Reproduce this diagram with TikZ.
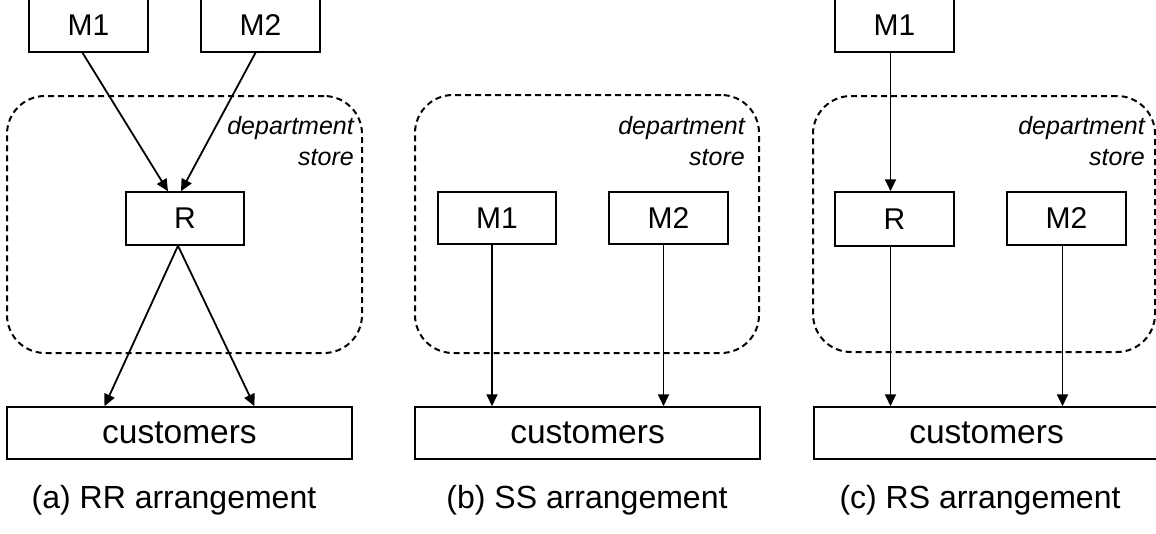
\documentclass[tikz,border=0pt]{standalone}
\usepackage{fontspec}
\setmainfont{Liberation Sans}
\usetikzlibrary{arrows.meta}
\tikzset{
  box/.style={draw, line width=1.5pt, fill=white, inner sep=0pt,
    font=\fontsize{30}{36}\selectfont},
  custbox/.style={box, minimum height=52pt, font=\fontsize{33.5}{40}\selectfont},
  store/.style={draw, line width=2pt, dash pattern=on 6pt off 4pt,
    rounded corners=38pt, inner sep=0pt},
  storelabel/.style={align=right, inner sep=0pt, anchor=north east,
    font=\fontsize{25}{31}\selectfont\itshape},
  caption/.style={inner sep=0pt, font=\fontsize{32}{38}\selectfont},
  flow/.style={line width=1.8pt, -{Triangle[length=12pt,width=11pt]}}
}
\begin{document}
\begin{tikzpicture}[x=1pt,y=-1pt]
\useasboundingbox (0,0) rectangle (1156,533);
\fill[white] (0,0) rectangle (1156,533);
\clip (0,0) rectangle (1156,533);

% ---------- (a) RR arrangement ----------
\node[store, minimum width=355pt, minimum height=257pt] (da) at (184.5,224.5) {};
\node[storelabel] (la) at (354,116) {department\\store};
\node[box, minimum width=119pt, minimum height=54pt] (aM1) at (88.5,25) {M1};
\node[box, minimum width=119pt, minimum height=54pt] (aM2) at (260.5,25) {M2};
\node[box, minimum width=118pt, minimum height=53pt] (aR) at (185,218.5) {R};
\node[custbox, minimum width=345pt] (aC) at (179.5,433) {customers};
\node[caption] (ca) at (174,500) {(a) RR arrangement};
\draw[flow] ([xshift=-6pt]aM1.south) -- ([xshift=-17pt]aR.north);
\draw[flow] ([xshift=-5pt]aM2.south) -- ([xshift=-4pt]aR.north);
\draw[flow] ([xshift=-7pt]aR.south) -- ([xshift=-75pt]aC.north);
\draw[flow] ([xshift=-7pt]aR.south) -- ([xshift=75pt]aC.north);

% ---------- (b) SS arrangement ----------
\node[store, minimum width=344pt, minimum height=258pt] (db) at (587,224) {};
\node[storelabel] (lb) at (745,116) {department\\store};
\node[box, minimum width=118pt, minimum height=52pt] (bM1) at (497,218) {M1};
\node[box, minimum width=119pt, minimum height=52pt] (bM2) at (668.5,218) {M2};
\node[custbox, minimum width=345pt] (bC) at (587.5,433) {customers};
\node[caption] (cb) at (587,500) {(b) SS arrangement};
\draw[flow] ([xshift=-5pt]bM1.south) -- ([xshift=-5pt]bM1.south |- bC.north);
\draw[flow] ([xshift=-5pt]bM2.south) -- ([xshift=-5pt]bM2.south |- bC.north);

% ---------- (c) RS arrangement ----------
\node[store, minimum width=342pt, minimum height=256pt] (dc) at (984,224) {};
\node[storelabel] (lc) at (1145,116) {department\\store};
\node[box, minimum width=119pt, minimum height=54pt] (cM1) at (894.5,25) {M1};
\node[box, minimum width=119pt, minimum height=54pt] (cR) at (894.5,219) {R};
\node[box, minimum width=119pt, minimum height=53pt] (cM2) at (1066.5,218.5) {M2};
\node[custbox, minimum width=345pt] (cC) at (986.5,433) {customers};
\node[caption] (cc) at (980,500) {(c) RS arrangement};
\draw[flow] ([xshift=-4pt]cM1.south) -- ([xshift=-4pt]cR.north);
\draw[flow] ([xshift=-4pt]cR.south) -- ([xshift=-4pt]cR.south |- cC.north);
\draw[flow] ([xshift=-4pt]cM2.south) -- ([xshift=-4pt]cM2.south |- cC.north);
\end{tikzpicture}
\end{document}
